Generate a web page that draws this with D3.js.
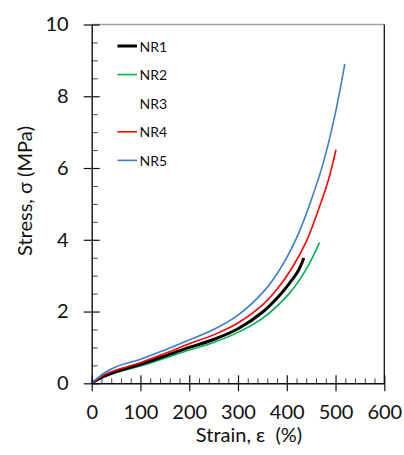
<!DOCTYPE html>
<html><head><meta charset="utf-8">
<script src="https://cdn.jsdelivr.net/npm/d3@7"></script>
<style>
html,body{margin:0;padding:0;background:#fff;}
svg text{font-family:Lato,"Open Sans",sans-serif;fill:#111;}
</style></head>
<body>
<svg id="chart" width="404" height="455"></svg>
<script>
// ---- data ----
const seriesNames = ["NR1", "NR2", "NR3", "NR4", "NR5"];
const seriesColors = ["#000000", "#00b050", "#ffffff", "#ff0000", "#3a7dcc"];
const seriesWidths = [3, 1.6, 1.6, 1.6, 1.6];

const nr1Strain = [0, 10, 25, 50, 100, 150, 200, 250, 300, 350, 385, 405, 423, 435];
const nr1Stress = [0, 0.09, 0.2, 0.33, 0.53, 0.76, 1.0, 1.22, 1.52, 1.98, 2.45, 2.78, 3.12, 3.49];

const nr2Strain = [0, 10, 25, 50, 100, 150, 200, 250, 300, 350, 405, 440, 467];
const nr2Stress = [0, 0.08, 0.17, 0.3, 0.48, 0.7, 0.93, 1.14, 1.42, 1.81, 2.5, 3.18, 3.92];

const nr4Strain = [0, 10, 25, 50, 100, 150, 200, 250, 300, 350, 380, 410, 440, 464, 485, 501];
const nr4Stress = [0, 0.1, 0.23, 0.37, 0.575, 0.83, 1.1, 1.35, 1.68, 2.18, 2.62, 3.2, 3.95, 4.8, 5.65, 6.51];

const nr5Strain = [0, 10, 25, 50, 100, 150, 200, 250, 300, 350, 375, 400, 425, 450, 475, 500, 519];
const nr5Stress = [0, 0.12, 0.28, 0.46, 0.67, 0.93, 1.21, 1.5, 1.9, 2.52, 2.95, 3.5, 4.2, 5.1, 6.15, 7.55, 8.9];

const xTicks = [0, 100, 200, 300, 400, 500, 600];
const yTicks = [0, 2, 4, 6, 8, 10];
const xTitle = "Strain, \u03b5  (%)";
const yTitle = "Stress, \u03c3 (MPa)";

// ---- layout ----
const svg = d3.select("#chart");
const mLeft = 91.7, mRight = 384.3, mTop = 24.5, mBottom = 383.3;
const x = d3.scaleLinear().domain([0, 600]).range([mLeft, mRight]);
const y = d3.scaleLinear().domain([0, 10]).range([mBottom, mTop]);

const xMinor = d3.range(0, 601, 20).filter(v => v % 100 !== 0);
const yMinor = d3.range(0, 10.01, 0.5).filter(v => Math.abs(v % 2) > 1e-9);

// frame top and right
svg.append("line").attr("x1", mLeft).attr("x2", mRight).attr("y1", mTop).attr("y2", mTop)
  .attr("stroke", "#a0a0a0").attr("stroke-width", 1.3);
svg.append("line").attr("x1", mRight).attr("x2", mRight).attr("y1", mTop).attr("y2", mBottom)
  .attr("stroke", "#111").attr("stroke-width", 1.3);

// curves
const curves = [
  {name: "NR2", sx: nr2Strain, sy: nr2Stress},
  {name: "NR1", sx: nr1Strain, sy: nr1Stress},
  {name: "NR4", sx: nr4Strain, sy: nr4Stress},
  {name: "NR5", sx: nr5Strain, sy: nr5Stress}
];
const line = d3.line().x(d => x(d[0])).y(d => y(d[1])).curve(d3.curveCatmullRom.alpha(0.5));
curves.forEach(c => {
  const i = seriesNames.indexOf(c.name);
  svg.append("path").datum(c.sx.map((v, k) => [v, c.sy[k]]))
    .attr("d", line).attr("fill", "none")
    .attr("stroke", seriesColors[i]).attr("stroke-width", seriesWidths[i]);
});

// axes
const gx = svg.append("g").attr("transform", `translate(0,${mBottom})`);
gx.call(d3.axisBottom(x).tickValues(xMinor).tickSize(-5).tickFormat(""));
gx.call(g => g.selectAll(".tick line").attr("stroke", "#444"));
gx.select(".domain").remove();
const gx2 = svg.append("g").attr("transform", `translate(0,${mBottom})`);
gx2.call(d3.axisBottom(x).tickValues(xTicks).tickSize(8).tickPadding(14).tickSizeOuter(0));
gx2.selectAll(".tick line").attr("y1", -8).attr("stroke", "#111").attr("stroke-width", 1.2);
gx2.select(".domain").attr("stroke", "#111").attr("stroke-width", 1.4);
gx2.selectAll(".tick text").attr("font-size", 20).attr("font-family", "Lato").attr("fill", "#111");

const gy = svg.append("g").attr("transform", `translate(${mLeft},0)`);
gy.call(d3.axisLeft(y).tickValues(yMinor).tickSize(-6).tickFormat(""));
gy.call(g => g.selectAll(".tick line").attr("stroke", "#444"));
gy.select(".domain").remove();
const gy2 = svg.append("g").attr("transform", `translate(${mLeft},0)`);
gy2.call(d3.axisLeft(y).tickValues(yTicks).tickSize(8).tickPadding(15).tickSizeOuter(0));
gy2.selectAll(".tick line").attr("x1", 8).attr("stroke", "#111").attr("stroke-width", 1.2);
gy2.select(".domain").attr("stroke", "#111").attr("stroke-width", 1.4);
gy2.selectAll(".tick text").attr("font-size", 20).attr("font-family", "Lato").attr("fill", "#111");

// titles
svg.append("text").attr("x", 249).attr("y", 442).attr("text-anchor", "middle")
  .attr("font-size", 20).style("white-space", "pre").text(xTitle);
svg.append("text").attr("transform", "translate(32,191) rotate(-90)").attr("text-anchor", "middle")
  .attr("font-size", 20).text(yTitle);

// legend
const lg = svg.append("g");
seriesNames.forEach((n, i) => {
  const yy = 46 + i * 28.6;
  lg.append("line").attr("x1", 117.5).attr("x2", 137).attr("y1", yy).attr("y2", yy)
    .attr("stroke", seriesColors[i]).attr("stroke-width", seriesWidths[i]);
  lg.append("text").attr("x", 139.5).attr("y", yy + 5.5).attr("font-size", 14).text(n);
});
</script>
</body></html>
